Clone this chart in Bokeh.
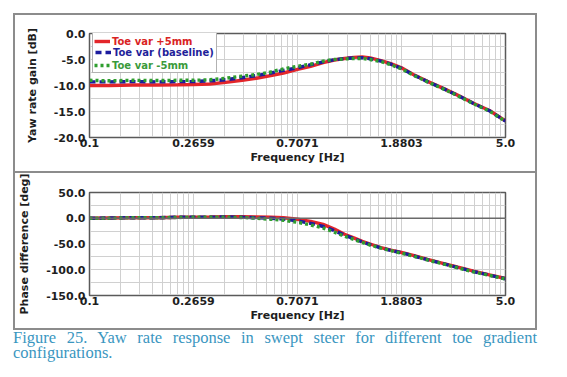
import numpy as np
from bokeh.plotting import figure
from bokeh.models import (Range1d, FixedTicker, CustomJSTickFormatter, NumeralTickFormatter,
                          Legend, LegendItem, Span, Div, Spacer)
from bokeh.layouts import column, row
from bokeh.embed import file_html
from bokeh.resources import INLINE

# ---------------- data ----------------
freq = [0.1, 0.12, 0.15, 0.19, 0.23, 0.2659, 0.31, 0.36, 0.42, 0.48, 0.55, 0.62, 0.7071,
        0.8, 0.9, 1.0, 1.1, 1.2, 1.3, 1.4, 1.55, 1.7, 1.8803, 2.1, 2.4, 2.8, 3.2, 3.7, 4.3, 5.0]

gain_plus5 = [-10.0, -10.0, -9.9, -9.9, -9.85, -9.8, -9.7, -9.4, -9.0, -8.6, -8.1, -7.6, -6.9,
              -6.3, -5.6, -5.1, -4.8, -4.6, -4.5, -4.7, -5.2, -5.8, -6.6, -7.9, -9.2, -10.6,
              -11.9, -13.4, -14.8, -16.8]
gain_base = [-9.3, -9.3, -9.25, -9.3, -9.25, -9.25, -9.1, -8.9, -8.5, -8.1, -7.6, -7.1, -6.6,
             -6.0, -5.45, -5.05, -4.8, -4.7, -4.65, -4.85, -5.3, -5.9, -6.7, -7.95, -9.25,
             -10.65, -11.95, -13.45, -14.85, -16.85]
gain_minus5 = [-9.0, -9.1, -9.0, -9.05, -9.0, -9.0, -8.9, -8.6, -8.2, -7.9, -7.4, -6.8, -6.3,
               -5.9, -5.3, -5.0, -4.9, -4.8, -4.8, -5.0, -5.4, -6.0, -6.8, -8.0, -9.3, -10.7,
               -12.0, -13.5, -14.9, -16.9]

phase_plus5 = [0, 0.5, 1, 1, 2, 2, 2.5, 3, 3, 2.5, 2, 1, -2, -6, -12, -21, -31, -38, -45, -50,
               -57, -62, -66.5, -72, -80, -88, -95, -102.5, -110, -117]
phase_base = [0, 0.5, 1, 1, 2, 2, 2, 2.5, 2, 1, 0, -1.5, -5, -10, -16, -24, -33, -39.5, -46,
              -51, -57.5, -62.5, -67, -73, -80.5, -88.5, -96, -103.5, -110.5, -117.5]
phase_minus5 = [0, 0, 1, 1, 1.5, 2, 2, 2, 1.5, 0, -2, -4, -8, -13, -19, -27, -35, -41, -47, -52,
                -58, -63, -68, -73.5, -81, -89, -96.5, -104, -111, -118]

x_ticks = [0.1, 0.2659, 0.7071, 1.8803, 5.0]
x_tick_labels = ["0.1", "0.2659", "0.7071", "1.8803", "5.0"]
gain_ticks = [-20, -15, -10, -5, 0]
gain_minor = [-17.5, -12.5, -7.5, -2.5]
phase_ticks = [-150, -100, -50, 0, 50]
phase_minor = [-125, -75, -25, 25]

series_names = ["Toe var +5mm", "Toe var (baseline)", "Toe var -5mm"]
series_colors = ["#e3262a", "#1c1c9e", "#2f9e2f"]
label_colors = ["#d92323", "#1f1f9a", "#3a9a3a"]
caption = ("Figure 25. Yaw rate response in swept steer for different toe gradient "
           "configurations.")

# minor x grid: log-style subdivisions inside each major interval
x_minor = []
for a, b in zip(x_ticks[:-1], x_ticks[1:]):
    r = b / a
    for k in range(2, 10):
        x_minor.append(a * r ** np.log10(k))

FONT = "DejaVu Sans"
FS = "11px"
GRID = "#d0d0d0"
FRAME = "#5a5a5a"
BOX = "#8c8c8c"
INNER_W = 520
RIGHT_B = 30


def make_panel(height, b_left, b_top, b_bottom, yr, yticks, yminor, ylabel, ylabel_standoff):
    p = figure(width=INNER_W, height=height, x_axis_type="log",
               x_range=Range1d(0.1, 5.0), y_range=Range1d(*yr),
               output_backend="svg", toolbar_location=None,
               min_border_left=b_left, min_border_right=RIGHT_B,
               min_border_top=b_top, min_border_bottom=b_bottom)
    xt = FixedTicker(ticks=x_ticks, minor_ticks=x_minor)
    yt = FixedTicker(ticks=yticks, minor_ticks=yminor)
    p.xaxis.ticker = xt
    p.yaxis.ticker = yt
    p.xgrid.ticker = xt
    p.ygrid.ticker = yt
    p.xaxis.formatter = CustomJSTickFormatter(
        args=dict(vals=x_ticks, labels=x_tick_labels),
        code="""
        for (let i = 0; i < vals.length; i++) {
            if (Math.abs(vals[i] - tick) < 1e-6) { return labels[i]; }
        }
        return "";
        """)
    p.yaxis.formatter = NumeralTickFormatter(format="0.0")
    for g in (p.xgrid[0], p.ygrid[0]):
        g.grid_line_color = GRID
        g.minor_grid_line_color = GRID
        g.grid_line_width = 1
        g.minor_grid_line_width = 1
    for ax in (p.xaxis[0], p.yaxis[0]):
        ax.major_tick_out = 0
        ax.major_tick_in = 0
        ax.minor_tick_out = 0
        ax.minor_tick_in = 0
        ax.axis_line_color = FRAME
        ax.major_label_text_font = FONT
        ax.major_label_text_font_style = "bold"
        ax.major_label_text_font_size = FS
        ax.major_label_text_color = "#1e1e1e"
        ax.axis_label_text_font = FONT
        ax.axis_label_text_font_style = "bold"
        ax.axis_label_text_font_size = FS
        ax.axis_label_text_color = "#1e1e1e"
    p.xaxis.axis_label = "Frequency [Hz]"
    p.xaxis.major_label_standoff = 1
    p.xaxis.axis_label_standoff = 1
    p.yaxis.axis_label = ylabel
    p.yaxis.major_label_standoff = 4
    p.yaxis.axis_label_standoff = ylabel_standoff
    p.outline_line_color = FRAME
    p.outline_line_width = 1.5
    p.background_fill_color = "white"
    p.border_fill_color = "white"
    return p


def add_series(p, ys):
    rs = []
    dashes = ["solid", "6 4", "3 3"]
    for y, c, d in zip(ys, series_colors, dashes):
        rs.append(p.line(freq, y, line_color=c, line_width=3.4, line_dash=d))
    return rs


# ---------------- top panel: gain ----------------
H1, L1, T1, B1 = 156, 67, 18, 34
p1 = make_panel(H1, L1, T1, B1, (-20, 0), gain_ticks, gain_minor, "Yaw rate gain [dB]", 12)
r = add_series(p1, [gain_plus5, gain_base, gain_minus5])

# Legend built from three one-item legends so each label gets its own colour.
PAD, ROW, LX = 2, 12, 3
common = dict(margin=0, padding=PAD, spacing=0, glyph_width=16, label_standoff=2,
              label_text_font=FONT, label_text_font_style="bold",
              label_text_font_size="10px")
frame_h = H1 - T1 - B1
# middle (baseline) item: one tall row = the whole box, label lands on the middle row
box_leg = Legend(items=[LegendItem(label=series_names[1], renderers=[r[1]])],
                 location=(LX, frame_h - 3 * ROW - 2 * PAD),
                 glyph_height=3 * ROW, label_height=ROW,
                 label_text_color=label_colors[1],
                 border_line_color="#666666", border_line_width=1.2,
                 background_fill_color="white", background_fill_alpha=1, **common)
top_leg = Legend(items=[LegendItem(label=series_names[0], renderers=[r[0]])],
                 location=(LX, frame_h - ROW - 2 * PAD), glyph_height=ROW, label_height=ROW,
                 label_text_color=label_colors[0],
                 border_line_alpha=0, background_fill_alpha=0, **common)
bot_leg = Legend(items=[LegendItem(label=series_names[2], renderers=[r[2]])],
                 location=(LX, frame_h - 3 * ROW - 2 * PAD), glyph_height=ROW, label_height=ROW,
                 label_text_color=label_colors[2],
                 border_line_alpha=0, background_fill_alpha=0, **common)
p1.add_layout(box_leg)
p1.add_layout(top_leg)
p1.add_layout(bot_leg)

# ---------------- bottom panel: phase ----------------
H2 = 155
p2 = make_panel(H2, 74, 19, 33, (-150, 50), phase_ticks, phase_minor,
                "Phase difference [deg]", 12)
p2.add_layout(Span(location=0, dimension="width", line_color="#6a6a6a", line_width=1.5))
add_series(p2, [phase_plus5, phase_base, phase_minus5])


def hbar(w):
    return Spacer(width=w, height=2, styles={"background-color": BOX})


def vbar(h):
    return Spacer(width=2, height=h, styles={"background-color": BOX})


TOTAL_H = 2 + H1 + 2 + H2 + 2
inner = column(hbar(INNER_W), p1, hbar(INNER_W), p2, hbar(INNER_W))
panels = row(vbar(TOTAL_H), inner, vbar(TOTAL_H))

div = Div(text=caption, width=INNER_W + 4, margin=(0, 0, 0, 0),
          styles={"font-family": "'Liberation Serif', 'Times New Roman', serif",
                  "font-size": "16.5px", "line-height": "15px", "color": "#3a96bf",
                  "text-align": "justify"})

layout = column(Spacer(height=13),
                row(Spacer(width=13), panels),
                row(Spacer(width=13), div))

open("out.html", "w").write(file_html(layout, INLINE))
